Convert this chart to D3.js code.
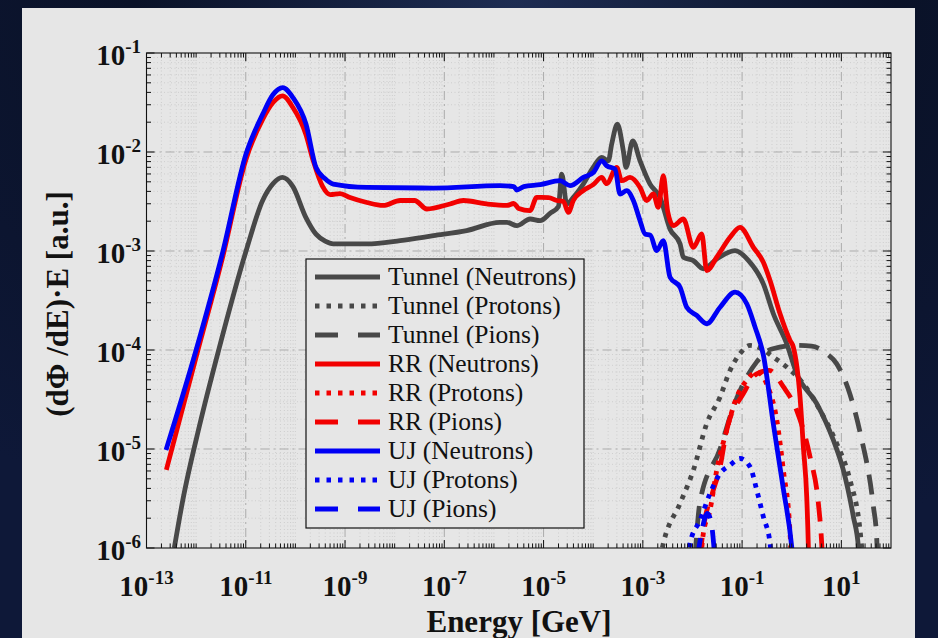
<!DOCTYPE html>
<html><head><meta charset="utf-8">
<script src="https://cdn.jsdelivr.net/npm/d3@7"></script>
<style>html,body{margin:0;padding:0;background:#070b1a;overflow:hidden}svg{display:block}</style>
</head><body><svg id="c" width="938" height="638"></svg>
<script>
// Values, stored as [log10(Energy/GeV), log10(flux)]
const tunnelNeutrons = [[-12.44,-6.0],[-12.27,-5.52],[-11.94,-4.78],[-11.53,-3.97],[-11.0,-3.01],[-10.66,-2.49],[-10.45,-2.32],[-10.26,-2.257],[-10.05,-2.35],[-9.79,-2.66],[-9.585,-2.83],[-9.4,-2.9],[-9.24,-2.928],[-8.56,-2.928],[-7.89,-2.895],[-7.22,-2.845],[-6.55,-2.794],[-5.88,-2.711],[-5.74,-2.711],[-5.54,-2.744],[-5.27,-2.677],[-5.07,-2.694],[-4.87,-2.62],[-4.7,-2.55],[-4.634,-2.223],[-4.533,-2.525],[-4.4,-2.459],[-4.2,-2.324],[-4.0,-2.156],[-3.83,-2.055],[-3.695,-2.089],[-3.627,-1.92],[-3.513,-1.719],[-3.393,-1.988],[-3.339,-2.156],[-3.204,-1.887],[-3.056,-2.089],[-2.855,-2.324],[-2.653,-2.459],[-2.452,-2.78],[-2.25,-2.928],[-2.184,-3.063],[-1.982,-3.097],[-1.781,-3.18],[-1.511,-3.08],[-1.143,-2.996],[-0.87,-3.097],[-0.572,-3.332],[-0.37,-3.634],[-0.101,-3.937],[0.1,-4.239],[0.504,-4.541],[0.839,-4.911],[1.04,-5.214],[1.242,-5.684],[1.343,-5.99],[1.36,-6.1]];
const tunnelProtons = [[-2.65,-6.1],[-2.587,-5.953],[-2.25,-5.55],[-1.982,-5.214],[-1.712,-4.743],[-1.444,-4.475],[-1.243,-4.206],[-1.042,-4.037],[-0.84,-3.954],[-0.6,-3.99],[-0.37,-4.072],[-0.101,-4.172],[0.234,-4.34],[0.57,-4.609],[0.907,-4.945],[1.175,-5.315],[1.376,-5.819],[1.43,-6.1]];
const tunnelPions = [[-1.95,-6.1],[-1.847,-5.53],[-1.444,-5.0],[-1.177,-4.576],[-0.705,-4.12],[-0.4,-3.99],[0.1,-3.954],[0.4,-3.96],[0.705,-4.037],[0.907,-4.14],[1.175,-4.45],[1.376,-4.83],[1.645,-5.58],[1.71,-5.886],[1.73,-6.1]];
const rrNeutrons = [[-12.6,-5.21],[-12.0,-4.07],[-11.47,-3.07],[-11.0,-2.08],[-10.66,-1.67],[-10.45,-1.5],[-10.26,-1.433],[-10.05,-1.55],[-9.79,-1.82],[-9.64,-2.09],[-9.45,-2.35],[-9.3,-2.43],[-9.1,-2.42],[-8.9,-2.46],[-8.56,-2.51],[-8.23,-2.54],[-7.89,-2.49],[-7.6,-2.49],[-7.35,-2.576],[-6.885,-2.525],[-6.617,-2.49],[-6.145,-2.525],[-5.74,-2.54],[-5.6,-2.52],[-5.5,-2.57],[-5.273,-2.593],[-5.138,-2.459],[-4.9,-2.46],[-4.735,-2.49],[-4.6,-2.5],[-4.5,-2.61],[-4.4,-2.49],[-4.199,-2.39],[-4.0,-2.33],[-3.828,-2.257],[-3.73,-2.32],[-3.526,-2.156],[-3.426,-2.29],[-3.258,-2.257],[-3.056,-2.358],[-2.922,-2.49],[-2.788,-2.424],[-2.688,-2.559],[-2.587,-2.24],[-2.5,-2.6],[-2.385,-2.744],[-2.184,-2.677],[-1.982,-2.963],[-1.813,-2.828],[-1.712,-3.198],[-1.511,-3.063],[-1.243,-2.862],[-1.042,-2.761],[-0.773,-2.963],[-0.572,-3.114],[-0.437,-3.298],[-0.236,-3.634],[-0.034,-3.903],[0.032,-3.97],[0.167,-4.475],[0.234,-4.979],[0.302,-5.483],[0.335,-5.99],[0.34,-6.1]];
const rrProtons = [[-1.83,-6.1],[-1.781,-5.852],[-1.646,-5.617],[-1.511,-5.214],[-1.31,-4.81],[-1.109,-4.475],[-0.906,-4.306],[-0.705,-4.223],[-0.5,-4.35],[-0.3,-4.71],[-0.17,-5.21],[-0.034,-5.85],[-0.01,-6.1]];
const rrPions = [[-1.85,-6.1],[-1.78,-5.8],[-1.6,-5.45],[-1.444,-5.181],[-1.31,-4.81],[-0.975,-4.441],[-0.705,-4.24],[-0.45,-4.206],[-0.17,-4.37],[0.1,-4.609],[0.369,-5.08],[0.537,-5.55],[0.604,-5.953],[0.62,-6.1]];
const ujNeutrons = [[-12.607,-5.01],[-12.0,-4.0],[-11.465,-3.013],[-10.995,-2.02],[-10.66,-1.62],[-10.45,-1.42],[-10.256,-1.35],[-10.05,-1.45],[-9.786,-1.72],[-9.585,-2.156],[-9.4,-2.27],[-9.236,-2.324],[-8.563,-2.358],[-7.221,-2.364],[-5.877,-2.34],[-5.6,-2.35],[-5.54,-2.384],[-5.4,-2.35],[-5.07,-2.33],[-4.668,-2.29],[-4.467,-2.34],[-4.199,-2.257],[-3.997,-2.207],[-3.828,-2.089],[-3.727,-2.139],[-3.56,-2.173],[-3.46,-2.424],[-3.325,-2.39],[-3.191,-2.49],[-3.056,-2.694],[-2.956,-2.828],[-2.85,-2.84],[-2.72,-2.996],[-2.587,-2.895],[-2.452,-3.265],[-2.25,-3.366],[-2.116,-3.568],[-1.914,-3.651],[-1.712,-3.735],[-1.444,-3.568],[-1.143,-3.416],[-0.906,-3.533],[-0.739,-3.769],[-0.572,-4.05],[-0.37,-4.75],[-0.17,-5.4],[0.0,-5.99],[0.02,-6.1]];
const ujProtons = [[-2.09,-6.1],[-2.049,-5.953],[-1.847,-5.718],[-1.646,-5.449],[-1.444,-5.247],[-1.243,-5.163],[-1.042,-5.096],[-0.84,-5.18],[-0.705,-5.415],[-0.572,-5.684],[-0.437,-5.953],[-0.41,-6.1]];
const ujPions = [[-1.9,-6.1],[-1.8,-5.8],[-1.7,-5.65],[-1.62,-5.75],[-1.55,-6.1]];

const legendLabels = ["Tunnel (Neutrons)","Tunnel (Protons)","Tunnel (Pions)","RR (Neutrons)","RR (Protons)","RR (Pions)","UJ (Neutrons)","UJ (Protons)","UJ (Pions)"];
const xTickExps = [-13,-11,-9,-7,-5,-3,-1,1];
const yTickExps = [-6,-5,-4,-3,-2,-1];

const seriesData = [tunnelNeutrons,tunnelProtons,tunnelPions,rrNeutrons,rrProtons,rrPions,ujNeutrons,ujProtons,ujPions];
const colors = ["#484848","#484848","#484848","#f20000","#f20000","#f20000","#0000f5","#0000f5","#0000f5"];
const styles = ["solid","dot","dash","solid","dot","dash","solid","dot","dash"];

const svg = d3.select("#c");
const W = 938, H = 638;
const L = 146.5, R = 891, T = 53, B = 548;
const x = d3.scaleLog().domain([1e-13, 1e2]).range([L, R]);
const y = d3.scaleLog().domain([1e-6, 1e-1]).range([B, T]);

// background
const defs = svg.append("defs");
const g1 = defs.append("radialGradient").attr("id","bg").attr("cx","55%").attr("cy","0%").attr("r","90%");
g1.append("stop").attr("offset","0%").attr("stop-color","#1d2c52");
g1.append("stop").attr("offset","45%").attr("stop-color","#0a1228");
g1.append("stop").attr("offset","100%").attr("stop-color","#0e1838");
svg.append("rect").attr("width",W).attr("height",H).attr("fill","url(#bg)");
svg.append("rect").attr("x",22).attr("y",8).attr("width",893).attr("height",640).attr("fill","#e6e6e6");

defs.append("clipPath").attr("id","clip").append("rect").attr("x",L).attr("y",T).attr("width",R-L).attr("height",B-T);

// minor positions
const xMinor = [];
for (let d=-13; d<2; d++) { for (let k=1;k<10;k++){ const v=k*Math.pow(10,d); if (k===1 && xTickExps.includes(d)) continue; if (v>1e2) continue; xMinor.push(v);} }
const yMinor = [];
for (let d=-6; d<-1; d++) { for (let k=2;k<10;k++) yMinor.push(k*Math.pow(10,d)); }

const grid = svg.append("g");
grid.selectAll(".xmg").data(xMinor).join("line").attr("x1",d=>x(d)).attr("x2",d=>x(d)).attr("y1",T).attr("y2",B)
  .attr("stroke","#c8c8c8").attr("stroke-width",0.8).attr("stroke-dasharray","1,2.5");
grid.selectAll(".ymg").data(yMinor).join("line").attr("y1",d=>y(d)).attr("y2",d=>y(d)).attr("x1",L).attr("x2",R)
  .attr("stroke","#c8c8c8").attr("stroke-width",0.8).attr("stroke-dasharray","1,2.5");
grid.selectAll(".xg").data(xTickExps.filter(e=>e>-13)).join("line").attr("x1",d=>x(Math.pow(10,d))).attr("x2",d=>x(Math.pow(10,d))).attr("y1",T).attr("y2",B)
  .attr("stroke","#ababab").attr("stroke-width",1).attr("stroke-dasharray","9,4,2,4");
grid.selectAll(".yg").data(yTickExps.filter(e=>e>-6 && e<-1)).join("line").attr("y1",d=>y(Math.pow(10,d))).attr("y2",d=>y(Math.pow(10,d))).attr("x1",L).attr("x2",R)
  .attr("stroke","#ababab").attr("stroke-width",1).attr("stroke-dasharray","9,4,2,4");

// curves
const line = d3.line().x(d=>x(Math.pow(10,d[0]))).y(d=>y(Math.pow(10,d[1]))).curve(d3.curveMonotoneX);
const dashFor = s => s==="dot" ? "4.5,6" : s==="dash" ? "20,12" : null;
const plot = svg.append("g").attr("clip-path","url(#clip)");
seriesData.forEach((s,i)=>{
  plot.append("path").attr("d",line(s)).attr("fill","none").attr("stroke",colors[i]).attr("stroke-width",4.8)
    .attr("stroke-linejoin","round").attr("stroke-dasharray",dashFor(styles[i]));
});

// axes box and ticks
const ax = svg.append("g");
ax.append("rect").attr("x",L).attr("y",T).attr("width",R-L).attr("height",B-T).attr("fill","none").attr("stroke","#111").attr("stroke-width",1.1);
const xMaj = xTickExps.map(e=>Math.pow(10,e));
const yMaj = yTickExps.map(e=>Math.pow(10,e));
const tk = (arr, len, isX) => {
  arr.forEach(v=>{
    if (isX) {
      const xx = x(v);
      ax.append("line").attr("x1",xx).attr("x2",xx).attr("y1",B).attr("y2",B-len).attr("stroke","#111");
      ax.append("line").attr("x1",xx).attr("x2",xx).attr("y1",T).attr("y2",T+len).attr("stroke","#111");
    } else {
      const yy = y(v);
      ax.append("line").attr("y1",yy).attr("y2",yy).attr("x1",L).attr("x2",L+len).attr("stroke","#111");
      ax.append("line").attr("y1",yy).attr("y2",yy).attr("x1",R).attr("x2",R-len).attr("stroke","#111");
    }
  });
};
tk(xMaj, 8, true); tk(xMinor, 4.5, true); tk(yMaj, 8, false); tk(yMinor, 4.5, false);

const font = "'Liberation Serif','Times New Roman',serif";
xTickExps.forEach(e=>{
  const t = ax.append("text").attr("x",x(Math.pow(10,e))).attr("y",596).attr("text-anchor","middle")
    .attr("font-family",font).attr("font-weight","bold").attr("font-size",29).attr("fill","#111");
  t.append("tspan").text("10");
  t.append("tspan").attr("dy",-12).attr("font-size",19).text(String(e));
});
yTickExps.forEach(e=>{
  const t = ax.append("text").attr("x",141).attr("y",y(Math.pow(10,e))+12).attr("text-anchor","end")
    .attr("font-family",font).attr("font-weight","bold").attr("font-size",29).attr("fill","#111");
  t.append("tspan").text("10");
  t.append("tspan").attr("dy",-12).attr("font-size",19).text(String(e));
});
svg.append("text").attr("x",519).attr("y",632).attr("text-anchor","middle").attr("font-family",font)
  .attr("font-weight","bold").attr("font-size",31).attr("fill","#111").text("Energy [GeV]");
svg.append("text").attr("transform","translate(68,304) rotate(-90)").attr("text-anchor","middle").attr("font-family",font)
  .attr("font-weight","bold").attr("font-size",31).attr("fill","#111").text("(dΦ /dE)·E [a.u.]");

// legend
const lg = svg.append("g");
lg.append("rect").attr("x",306).attr("y",259).attr("width",278).attr("height",269).attr("fill","#e6e6e6").attr("stroke","#111").attr("stroke-width",1.2);
const legDash = s => s==="dot" ? "4.5,7" : s==="dash" ? "23,20" : null;
legendLabels.forEach((lab,i)=>{
  const yy = 277 + i*29;
  lg.append("line").attr("x1",315).attr("x2",380).attr("y1",yy).attr("y2",yy).attr("stroke",colors[i]).attr("stroke-width",4.8)
    .attr("stroke-dasharray",legDash(styles[i]));
  lg.append("text").attr("x",388).attr("y",yy+8).attr("font-family",font).attr("font-size",25.5).attr("fill","#111").text(lab);
});
</script></body></html>
